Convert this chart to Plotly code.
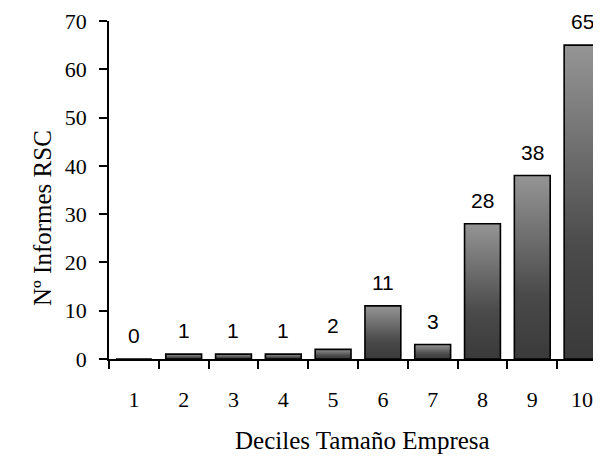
import plotly.graph_objects as go

deciles = [1, 2, 3, 4, 5, 6, 7, 8, 9, 10]
informes = [0, 1, 1, 1, 2, 11, 3, 28, 38, 65]
x_title = "Deciles Tamaño Empresa"
y_title = "Nº Informes RSC"

BAR_W = 0.72
DARK = "#3a3a3a"
LIGHT = "#959595"

fig = go.Figure()

for d, v in zip(deciles, informes):
    x0, x1 = d - BAR_W / 2, d + BAR_W / 2
    fig.add_trace(go.Scatter(
        x=[x0, x0, x1, x1, x0],
        y=[0, v, v, 0, 0],
        mode="lines",
        fill="toself",
        fillgradient=dict(type="vertical", start=0, stop=max(v, 0.001),
                          colorscale=[[0, DARK], [0.35, "#4a4a4a"], [1, LIGHT]]),
        line=dict(color="black", width=1.6),
        showlegend=False,
        hoverinfo="skip",
    ))

annotations = []
for d, v in zip(deciles, informes):
    annotations.append(dict(
        x=d, y=v, xref="x", yref="y", text=str(v), showarrow=False,
        xanchor="center", yanchor="bottom", yshift=10,
        font=dict(family="Liberation Sans, Arial", size=21, color="black"),
    ))

annotations.append(dict(
    x=(42 - 109) / 492, y=(359 - 218) / 338, xref="paper", yref="paper",
    text=y_title, textangle=-90, showarrow=False,
    xanchor="center", yanchor="middle",
    font=dict(family="Liberation Serif, Times New Roman", size=25, color="black"),
))
annotations.append(dict(
    x=(362 - 109) / 492, y=(359 - 441) / 338, xref="paper", yref="paper",
    text=x_title, showarrow=False,
    xanchor="center", yanchor="middle",
    font=dict(family="Liberation Serif, Times New Roman", size=25, color="black"),
))

# page body has an 8px margin, so the figure is 8px smaller and shifted
fig.update_layout(
    width=593, height=449,
    margin=dict(l=101, r=0, t=13, b=98),
    paper_bgcolor="white", plot_bgcolor="white",
    showlegend=False,
    annotations=annotations,
    xaxis=dict(
        range=[0.5, 10.38],
        tickmode="array", tickvals=deciles, ticktext=[str(d) for d in deciles],
        ticks="", ticklabelstandoff=20,
        minor=dict(tickmode="linear", tick0=0.5, dtick=1, ticks="outside",
                   ticklen=8, tickwidth=1.5, tickcolor="black"),
        showline=True, linecolor="black", linewidth=1.5,
        showgrid=False, zeroline=False,
        tickfont=dict(family="Liberation Serif, Times New Roman", size=22, color="black"),
    ),
    yaxis=dict(
        range=[0, 70], tickmode="linear", tick0=0, dtick=10,
        ticks="outside", ticklen=8, tickwidth=1.5, tickcolor="black",
        ticklabelstandoff=8,
        showline=True, linecolor="black", linewidth=1.5,
        showgrid=False, zeroline=False,
        tickfont=dict(family="Liberation Serif, Times New Roman", size=22, color="black"),
    ),
)

fig.write_html("out.html")
